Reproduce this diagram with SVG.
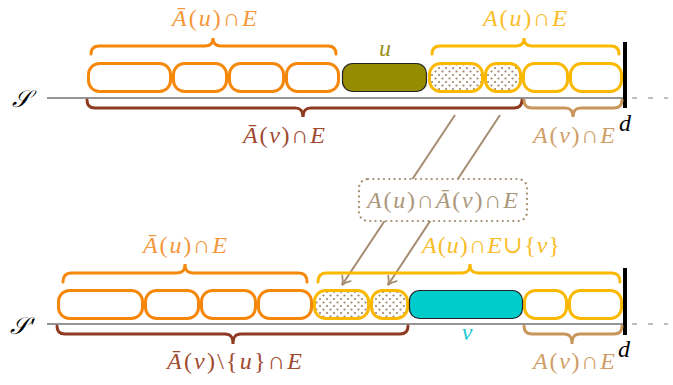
<svg xmlns="http://www.w3.org/2000/svg" width="673" height="385" viewBox="0 0 673 385">
<style>
.bx{fill:#fff;stroke-width:3}
.or{stroke:#f5870a}
.ye{stroke:#fbb800}
.dot{fill:url(#dots)}
.br{fill:none;stroke-width:3;stroke-linecap:round}
.t{font-family:"Liberation Serif","DejaVu Serif",serif;font-size:24px}
.i{font-style:italic}
.base{stroke:#707070;stroke-width:1.6}
.dash{stroke:#aaaaaa;stroke-width:1.5;stroke-dasharray:5 11}
.bar{stroke:#000;stroke-width:4}
.arr{stroke:#a48d70;stroke-width:2;fill:none}
</style>
<defs>
<pattern id="dots" width="7" height="7" patternUnits="userSpaceOnUse">
<rect width="7" height="7" fill="#fff"/>
<circle cx="1.5" cy="1.5" r="1.1" fill="#a08566"/>
<circle cx="5" cy="5" r="1.1" fill="#a08566"/>
</pattern>
<marker id="ah" markerUnits="userSpaceOnUse" viewBox="-10 -7 12 14" refX="0" refY="0" markerWidth="12" markerHeight="14" orient="auto">
<path d="M-8,-5 C-5,-2 -2,-0.5 0,0 C-2,0.5 -5,2 -8,5" fill="none" stroke="#a48d70" stroke-width="1.8" stroke-linecap="round"/>
</marker>
</defs>

<g id="row-S">
<line class="base" x1="47" y1="98" x2="625" y2="98"/>
<line class="dash" x1="632" y1="98" x2="668" y2="98"/>
<text class="t i" x="12" y="107" font-size="32">𝒮</text>
</g>
<g id="row-S2">
<line class="base" x1="47" y1="324" x2="625" y2="324"/>
<line class="dash" x1="632" y1="324" x2="668" y2="324"/>
<text class="t i" x="10" y="334" font-size="32">𝒮′</text>
</g>

<g id="connectors">
<line class="arr" x1="455" y1="115" x2="342" y2="285" marker-end="url(#ah)"/>
<line class="arr" x1="500" y1="115" x2="388" y2="285" marker-end="url(#ah)"/>
</g>

<g id="S-top-boxes">
<rect class="bx or" x="88.5" y="63.5" width="82" height="28" rx="11"/>
<rect class="bx or" x="173.5" y="63.5" width="53" height="28" rx="11"/>
<rect class="bx or" x="229.5" y="63.5" width="54" height="28" rx="11"/>
<rect class="bx or" x="286.5" y="63.5" width="52" height="28" rx="11"/>
<rect class="bx ye dot" x="429.5" y="63.5" width="53" height="28" rx="11"/>
<rect class="bx ye dot" x="485.5" y="63.5" width="35" height="28" rx="11"/>
<rect class="bx ye" x="523.5" y="63.5" width="44" height="28" rx="11"/>
<rect class="bx ye" x="570.5" y="63.5" width="51" height="28" rx="11"/>
</g>
<g id="u">
<rect x="342.5" y="63.5" width="84" height="28" rx="10" fill="#968c00" stroke="#222" stroke-width="1.2"/>
<text class="t i" x="385" y="56" text-anchor="middle" fill="#9a9020">u</text>
</g>
<g id="d-top">
<line class="bar" x1="625" y1="42" x2="625" y2="108"/>
<text class="t i" x="619" y="131">d</text>
</g>

<g id="S-bottom-boxes">
<rect class="bx or" x="58.5" y="290.5" width="84" height="28" rx="11"/>
<rect class="bx or" x="145.5" y="290.5" width="53" height="28" rx="11"/>
<rect class="bx or" x="201.5" y="290.5" width="54" height="28" rx="11"/>
<rect class="bx or" x="258.5" y="290.5" width="53" height="28" rx="11"/>
<rect class="bx ye dot" x="314.5" y="290.5" width="54" height="28" rx="11"/>
<rect class="bx ye dot" x="371.5" y="290.5" width="36" height="28" rx="11"/>
<rect class="bx ye" x="524.5" y="290.5" width="42" height="28" rx="11"/>
<rect class="bx ye" x="569.5" y="290.5" width="52" height="28" rx="11"/>
</g>
<g id="v">
<rect x="409.5" y="290.5" width="113" height="28" rx="10" fill="#00cccc" stroke="#222" stroke-width="1.2"/>
<text class="t i" x="467" y="340" text-anchor="middle" fill="#19c8d0">v</text>
</g>
<g id="d-bottom">
<line class="bar" x1="625" y1="268" x2="625" y2="335"/>
<text class="t i" x="618" y="357">d</text>
</g>

<g id="braces-top">
<path class="br" stroke="#f5870a" d="M91,54 Q91,46 99,46 H205 C210,46 213,44 213,38 C213,44 216,46 221,46 H328 Q336,46 336,54"/>
<path class="br" stroke="#fbb800" d="M432,54 Q432,46 440,46 H516 C521,46 524,44 524,38 C524,44 527,46 532,46 H611 Q619,46 619,54"/>
<path class="br" stroke="#8e3a20" d="M87,100 Q87,108 95,108 H295 C300,108 303,110 303,117 C303,110 306,108 311,108 H514 Q522,108 522,100"/>
<path class="br" stroke="#c8955a" d="M524,100 Q524,108 532,108 H565 C570,108 573,110 573,117 C573,110 576,108 581,108 H614 Q622,108 622,100"/>
</g>
<g id="braces-bottom">
<path class="br" stroke="#f5870a" d="M63,282 Q63,273 71,273 H177 C182,273 185,271 185,264 C185,271 188,273 193,273 H299 Q307,273 307,282"/>
<path class="br" stroke="#fbb800" d="M318,282 Q318,273 326,273 H462 C467,273 470,271 470,264 C470,271 473,273 478,273 H612 Q620,273 620,282"/>
<path class="br" stroke="#8e3a20" d="M57,326 Q57,334 65,334 H225 C230,334 233,336 233,344 C233,336 236,334 241,334 H400 Q408,334 408,326"/>
<path class="br" stroke="#c8955a" d="M524,326 Q524,334 532,334 H564 C569,334 572,336 572,344 C572,336 575,334 580,334 H614 Q622,334 622,326"/>
</g>

<g id="labels">
<text class="t" x="172" y="26" textLength="85" lengthAdjust="spacing" fill="#f5973a"><tspan class="i">Ā</tspan>(<tspan class="i">u</tspan>)∩<tspan class="i">E</tspan></text>
<text class="t" x="483" y="26" textLength="84" lengthAdjust="spacing" fill="#fbbd2a"><tspan class="i">A</tspan>(<tspan class="i">u</tspan>)∩<tspan class="i">E</tspan></text>
<text class="t" x="243" y="143" textLength="82" lengthAdjust="spacing" fill="#a04a30"><tspan class="i">Ā</tspan>(<tspan class="i">v</tspan>)∩<tspan class="i">E</tspan></text>
<text class="t" x="533" y="143" textLength="82" lengthAdjust="spacing" fill="#cf9e68"><tspan class="i">A</tspan>(<tspan class="i">v</tspan>)∩<tspan class="i">E</tspan></text>
<text class="t" x="143" y="253" textLength="84" lengthAdjust="spacing" fill="#f5973a"><tspan class="i">Ā</tspan>(<tspan class="i">u</tspan>)∩<tspan class="i">E</tspan></text>
<text class="t" x="422" y="253" textLength="138" lengthAdjust="spacing" fill="#fbbd2a"><tspan class="i">A</tspan>(<tspan class="i">u</tspan>)∩<tspan class="i">E</tspan>∪{<tspan class="i">v</tspan>}</text>
<text class="t" x="167" y="369" textLength="135" lengthAdjust="spacing" fill="#a04a30"><tspan class="i">Ā</tspan>(<tspan class="i">v</tspan>)\{<tspan class="i">u</tspan>}∩<tspan class="i">E</tspan></text>
<text class="t" x="533" y="369" textLength="82" lengthAdjust="spacing" fill="#cf9e68"><tspan class="i">A</tspan>(<tspan class="i">v</tspan>)∩<tspan class="i">E</tspan></text>
</g>

<g id="common-box">
<rect x="359" y="179" width="168" height="42" rx="9" fill="#fff" stroke="#a48d70" stroke-width="2.2" stroke-dasharray="0.1 5.2" stroke-linecap="round"/>
<text class="t" x="367" y="208" textLength="151" lengthAdjust="spacing" fill="#ab977c"><tspan class="i">A</tspan>(<tspan class="i">u</tspan>)∩<tspan class="i">Ā</tspan>(<tspan class="i">v</tspan>)∩<tspan class="i">E</tspan></text>
</g>
</svg>
